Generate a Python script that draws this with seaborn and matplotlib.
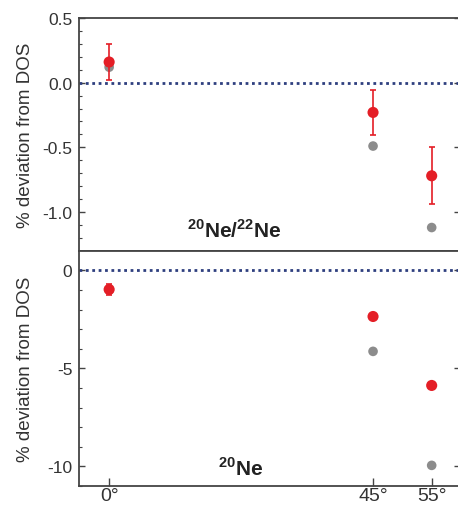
import numpy as np
import pandas as pd
import seaborn as sns
import matplotlib.pyplot as plt
from matplotlib.ticker import MultipleLocator

# angles (degrees)
angles = [0, 45, 55]
angle_labels = ['0°', '45°', '55°']

# 20Ne/22Ne ratio deviation (%)
ratio_meas = [0.16, -0.23, -0.72]
ratio_err = [0.14, 0.175, 0.22]
ratio_model = [0.12, -0.49, -1.12]

# 20Ne deviation (%)
ne20_meas = [-0.97, -2.35, -5.87]
ne20_err = [0.3, 0.1, 0.2]
ne20_model = [-1.0, -4.13, -9.95]

sns.set_style('white')
plt.rcParams['font.family'] = ['Liberation Sans', 'DejaVu Sans']
plt.rcParams['mathtext.fontset'] = 'custom'
plt.rcParams['mathtext.rm'] = 'Liberation Sans:bold'
plt.rcParams['mathtext.bf'] = 'Liberation Sans:bold'
plt.rcParams['axes.unicode_minus'] = False

RED = '#e41e26'
GREY = '#8c8c8c'
DOTS = '#2e3f7f'

fig = plt.figure(figsize=(4.58, 5.10), dpi=100)
left, right = 0.173, 1.004
ax1 = fig.add_axes([left, 0.505, right - left, 0.9627 - 0.505])
ax2 = fig.add_axes([left, 0.0452, right - left, 0.505 - 0.0452])

panels = [
    (ax1, ratio_meas, ratio_err, ratio_model, (-1.305, 0.5), 0.5, 0.1, '{:.1f}'),
    (ax2, ne20_meas, ne20_err, ne20_model, (-11.0, 0.97), 5, 1, '{:.0f}'),
]

for ax, meas, err, model, ylim, major, minor, fmt in panels:
    df = pd.DataFrame({'angle': angles, 'meas': meas, 'err': err, 'model': model})
    ax.axhline(0, color=DOTS, lw=2, ls=(0, (1, 1.3)), zorder=1)
    sns.scatterplot(data=df, x='angle', y='model', ax=ax, color=GREY, s=48,
                    edgecolor='none', zorder=2, legend=False)
    ax.errorbar(df['angle'], df['meas'], yerr=df['err'], fmt='none', ecolor=RED,
                elinewidth=1.2, capsize=2.5, capthick=1.2, zorder=3)
    sns.scatterplot(data=df, x='angle', y='meas', ax=ax, color=RED, s=64,
                    edgecolor='none', zorder=4, legend=False)
    ax.set_xlim(-5.1, 59.8)
    ax.set_ylim(*ylim)
    ax.yaxis.set_major_locator(MultipleLocator(major))
    ax.yaxis.set_minor_locator(MultipleLocator(minor))
    ax.yaxis.set_major_formatter(plt.FuncFormatter(lambda v, p, f=fmt: f.format(v + 0.0)))
    ax.set_ylabel('% deviation from DOS', fontsize=13.5, color='#333333')
    ax.yaxis.set_label_coords(-0.118, 0.5)
    ax.set_xlabel('')
    for s in ax.spines.values():
        s.set_color('#444444')
        s.set_linewidth(1.3)
    ax.tick_params(axis='y', which='major', direction='in', length=4, width=1,
                   color='#444444', labelsize=12.5, labelcolor='#333333',
                   left=True, right=True, pad=5)
    ax.tick_params(axis='y', which='minor', direction='in', length=2, width=0.8,
                   color='#444444', left=True, right=False)

ax1.set_xticks([])

ax2.set_xticks(angles)
ax2.set_xticklabels(angle_labels)
ax2.tick_params(axis='x', direction='in', length=6, width=1, color='#444444',
                labelsize=14, labelcolor='#333333', bottom=True, pad=1)

ax1.text(0.407, 0.095, r'$^{20}$Ne/$^{22}$Ne', transform=ax1.transAxes,
         ha='center', va='center', fontsize=15, fontweight='bold', color='#222222')
ax2.text(0.423, 0.08, r'$^{20}$Ne', transform=ax2.transAxes,
         ha='center', va='center', fontsize=15, fontweight='bold', color='#222222')

fig.savefig('out.png', dpi=100)
